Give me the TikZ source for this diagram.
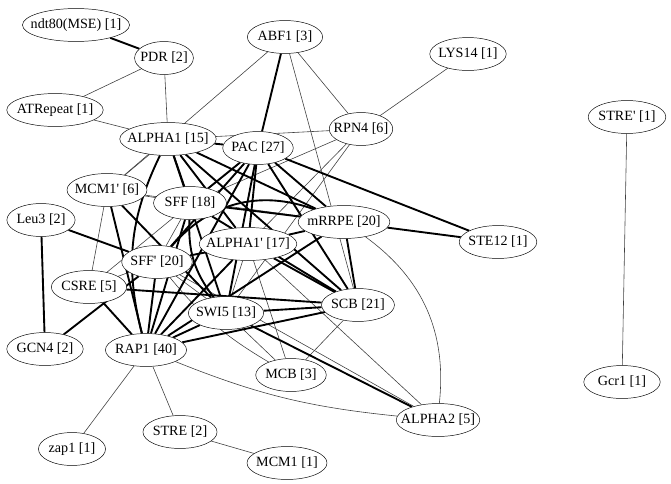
\documentclass[tikz,border=0pt]{standalone}
\usepackage{fontspec}
\setmainfont{Liberation Serif}
\usetikzlibrary{shapes.geometric,backgrounds}

\begin{document}
\begin{tikzpicture}[x=0.85pt,y=-0.85pt,
  every node/.style={font=\fontsize{12}{14}\selectfont},
  gene/.style={draw,ellipse,thin,fill=white,inner xsep=-10pt,inner ysep=0pt,minimum height=28pt},
  weak/.style={line width=0.5pt,black!75},
  strong/.style={line width=1.6pt}]
\useasboundingbox (0,0) rectangle (671,483);

% motifs
\node[gene,minimum width=91pt] (ndt) at (76,25) {ndt80(MSE) [1]};
\node[gene,minimum width=50pt] (pdr) at (164,58) {PDR [2]};
\node[gene,minimum width=64pt] (abf) at (285,37) {ABF1 [3]};
\node[gene,minimum width=65pt] (lys) at (468,54) {LYS14 [1]};
\node[gene,minimum width=82pt] (atr) at (55,110) {ATRepeat [1]};
\node[gene,minimum width=82pt] (alA) at (168,139) {ALPHA1 [15]};
\node[gene,minimum width=60pt] (pac) at (258,148) {PAC [27]};
\node[gene,minimum width=54pt] (rpn) at (361,129) {RPN4 [6]};
\node[gene,minimum width=66pt] (strep) at (627,117) {STRE\textquotesingle{} [1]};
\node[gene,minimum width=68pt] (mcmp) at (107,190) {MCM1\textquotesingle{} [6]};
\node[gene,minimum width=62pt] (sff) at (190,203) {SFF [18]};
\node[gene,minimum width=58pt] (leu) at (41,220) {Leu3 [2]};
\node[gene,minimum width=78pt] (mrr) at (344,222) {mRRPE [20]};
\node[gene,minimum width=66pt] (ste) at (498,242) {STE12 [1]};
\node[gene,minimum width=83pt] (alAp) at (248,244) {ALPHA1\textquotesingle{} [17]};
\node[gene,minimum width=60pt] (sffp) at (157,262) {SFF\textquotesingle{} [20]};
\node[gene,minimum width=64pt] (csre) at (89,287) {CSRE [5]};
\node[gene,minimum width=64pt] (swi) at (226,313) {SWI5 [13]};
\node[gene,minimum width=62pt] (scb) at (358,305) {SCB [21]};
\node[gene,minimum width=65pt] (gcn) at (45,349) {GCN4 [2]};
\node[gene,minimum width=69pt] (rap) at (146,350) {RAP1 [40]};
\node[gene,minimum width=60pt] (mcb) at (291,375) {MCB [3]};
\node[gene,minimum width=65pt] (gcr) at (622,382) {Gcr1 [1]};
\node[gene,minimum width=71pt] (alB) at (438,420) {ALPHA2 [5]};
\node[gene,minimum width=63pt] (stre) at (180,432) {STRE [2]};
\node[gene,minimum width=57pt] (zap) at (72,449) {zap1 [1]};
\node[gene,minimum width=68pt] (mcm) at (287,463) {MCM1 [1]};

\begin{scope}[on background layer]
% weak links
\draw[weak] (pdr) -- (atr);
\draw[weak] (pdr) -- (alA);
\draw[weak] (atr) -- (alA);
\draw[weak] (abf) -- (rpn);
\draw[weak] (abf) -- (mcmp);
\draw[weak] (abf) -- (scb);
\draw[weak] (alA) -- (rpn);
\draw[weak] (rpn) -- (lys);
\draw[weak] (rpn) -- (sff);
\draw[weak] (rpn) -- (alAp);
\draw[weak] (strep) -- (gcr);
\draw[weak] (rap) -- (zap);
\draw[weak] (rap) -- (stre);
\draw[weak] (stre) -- (mcm);
\draw[weak] (rap) to[bend right=8] (alB);
\draw[weak] (mcb) -- (scb);
\draw[weak] (mcb) -- (alAp);
\draw[weak] (mcb) -- (swi);
\draw[weak] (sffp) to[bend right=10] (mcb);
\draw[weak] (mrr) to[bend left=30] (alB);
\draw[weak] (alAp) -- (alB);
\draw[weak] (sffp) -- (alB);
\draw[weak] (alA) -- (mcmp);
\draw[weak] (mcmp) -- (sff);
\draw[weak] (mcmp) -- (mrr);
\draw[weak] (mcmp) -- (csre);
\draw[weak] (csre) -- (sffp);
\draw[weak] (sff) -- (sffp);
\draw[weak] (sffp) -- (swi);
\draw[weak] (alAp) -- (swi);
\draw[weak] (pac) -- (csre);
\draw[weak] (rpn) -- (swi);

% strong links
\draw[strong] (ndt) -- (pdr);
\draw[strong] (abf) -- (pac);
\draw[strong] (alA) -- (pac);
\draw[strong] (pac) -- (ste);
\draw[strong] (pac) -- (mrr);
\draw[strong] (pac) -- (scb);
\draw[strong] (pac) -- (alAp);
\draw[strong] (pac) -- (sffp);
\draw[strong] (pac) -- (rap);
\draw[strong] (pac) -- (swi);
\draw[strong] (pac) -- (sff);
\draw[strong] (alA) -- (sff);
\draw[strong] (alA) to[bend right=20] (rap);
\draw[strong] (alA) -- (mrr);
\draw[strong] (alA) -- (scb);
\draw[strong] (alA) -- (alAp);
\draw[strong] (alA) -- (swi);
\draw[strong] (mrr) -- (ste);
\draw[strong] (mrr) -- (scb);
\draw[strong] (mrr) -- (sff);
\draw[strong] (mrr) -- (rap);
\draw[strong] (mrr) -- (alAp);
\draw[strong] (sffp) to[bend left=35] (mrr);
\draw[strong] (sff) to[bend right=20] (swi);
\draw[strong] (sff) -- (rap);
\draw[strong] (sff) -- (scb);
\draw[strong] (alAp) -- (sffp);
\draw[strong] (alAp) -- (rap);
\draw[strong] (alAp) -- (scb);
\draw[strong] (sffp) -- (rap);
\draw[strong] (swi) -- (scb);
\draw[strong] (swi) -- (rap);
\draw[strong] (rap) -- (scb);
\draw[strong] (csre) -- (rap);
\draw[strong] (csre) -- (scb);
\draw[strong] (leu) -- (gcn);
\draw[strong] (leu) -- (sffp);
\draw[strong] (gcn) -- (sffp);
\draw[strong] (mcmp) -- (rap);
\draw[strong] (mcmp) -- (swi);
\draw[strong] (swi) -- (alB);
\end{scope}
\end{tikzpicture}
\end{document}
